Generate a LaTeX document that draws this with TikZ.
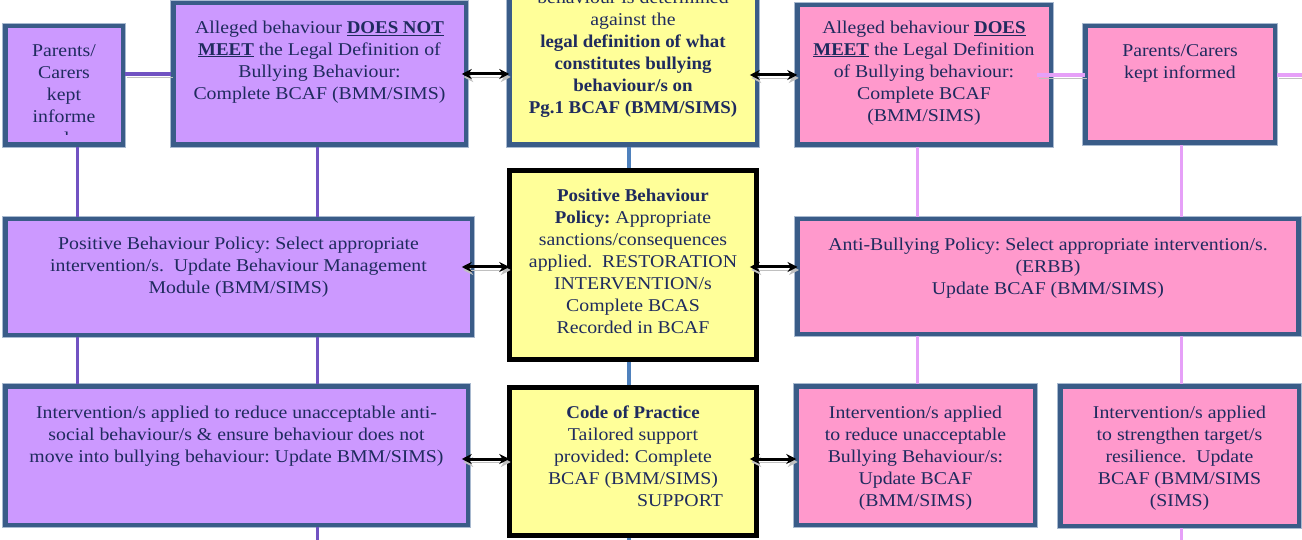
\documentclass[tikz,border=0pt]{standalone}
\usepackage{fontspec}
\setmainfont{Liberation Serif}[UprightFeatures={FakeStretch=1.1}, BoldFeatures={FakeStretch=1.05}]
\usetikzlibrary{arrows.meta}
\definecolor{bordc}{HTML}{3A5C88}
\definecolor{halo}{HTML}{A9BAD0}
\definecolor{lav}{HTML}{CC99FF}
\definecolor{pnk}{HTML}{FF99CC}
\definecolor{yel}{HTML}{FFFF99}
\definecolor{navy}{HTML}{1F2B5E}
\definecolor{purln}{HTML}{7152C2}
\definecolor{pinkln}{HTML}{E6A0F8}
\definecolor{blueln}{HTML}{4F81BD}
\definecolor{shad}{HTML}{C0C0C0}
\newcommand\ulb[1]{\underline{\textbf{#1}}}
\frenchspacing
\tikzset{
  box/.style={rectangle, inner sep=0pt, outer sep=0pt, line width=4.5pt, draw=bordc,
    preaction={draw=halo, line width=6.5pt}},
  purplebox/.style={box, fill=lav},
  pinkbox/.style={box, fill=pnk},
  yellowbox/.style={box, fill=yel},
  blackbox/.style={rectangle, inner sep=0pt, outer sep=0pt, line width=5pt, draw=black, fill=yel},
  txt/.style={anchor=north, inner sep=0pt, align=center, text=navy, font=\fontsize{18}{22}\selectfont\frenchspacing},
  purpline/.style={draw=purln, line width=3pt},
  pinkline/.style={draw=pinkln, line width=3pt},
  blueline/.style={draw=blueln, line width=4pt},
  shadowed/.style={preaction={draw=shad, transform canvas={xshift=1.5pt,yshift=-3pt}}},
  hpurp/.style={shadowed, draw=purln, line width=4pt},
  hpink/.style={shadowed, draw=pinkln, line width=4pt},
  dblarrow/.style={shadowed, draw=black, line width=3pt,
    {Stealth[length=10pt,width=10pt]}-{Stealth[length=10pt,width=10pt]}}
}
\begin{document}
\begin{tikzpicture}[x=1pt,y=-1pt]
\path[use as bounding box] (0,0) rectangle (1302,540);
\clip (0,0) rectangle (1302,540);
\fill[white] (0,0) rectangle (1302,540);
% named edge coordinates
\coordinate (edgeR) at (1302,75);
\coordinate (botP) at (317,540);
\coordinate (botB) at (629,540);
\coordinate (botK) at (1181,540);

% boxes (row 1)
\node[purplebox, minimum width=117.5pt, minimum height=118.5pt] (PL) at (64,85.5) {};
\node[purplebox, minimum width=292.5pt, minimum height=141.5pt] (DNM) at (319.5,74) {};
\node[yellowbox, minimum width=247.5pt, minimum height=162.5pt] (CT) at (633,63.5) {};
\node[pinkbox, minimum width=253.5pt, minimum height=139.5pt] (DM) at (924,75) {};
\node[pinkbox, minimum width=189.5pt, minimum height=116.5pt] (PR) at (1180,84.5) {};
% row 2
\node[purplebox, minimum width=466.5pt, minimum height=115.5pt] (PBP) at (238.5,277) {};
\node[blackbox, minimum width=247.5pt, minimum height=189.5pt] (CM) at (633,265) {};
\node[pinkbox, minimum width=501pt, minimum height=114.5pt] (AB) at (1048,276.5) {};
% row 3
\node[purplebox, minimum width=462.5pt, minimum height=138.5pt] (R3L) at (236.5,455.5) {};
\node[blackbox, minimum width=247.5pt, minimum height=148.5pt] (CB) at (633,461.5) {};
\node[pinkbox, minimum width=238.5pt, minimum height=138.5pt] (P1) at (915.5,455.5) {};
\node[pinkbox, minimum width=238.5pt, minimum height=139.5pt] (P2) at (1179.5,456) {};

% vertical connectors
\draw[purpline] ([xshift=13pt,yshift=-2.25pt]PL.south) -- ([xshift=13pt,yshift=2.25pt]PL.south |- PBP.north);
\draw[purpline] ([xshift=-2.5pt,yshift=-2.25pt]DNM.south) -- ([xshift=-2.5pt,yshift=2.25pt]DNM.south |- PBP.north);
\draw[purpline] ([xshift=13pt,yshift=-2.25pt]PL.south |- PBP.south) -- ([xshift=13pt,yshift=2.25pt]PL.south |- R3L.north);
\draw[purpline] ([xshift=-2.5pt,yshift=-2.25pt]DNM.south |- PBP.south) -- ([xshift=-2.5pt,yshift=2.25pt]DNM.south |- R3L.north);
\draw[purpline] ([xshift=-2.5pt,yshift=-2.25pt]DNM.south |- R3L.south) -- (botP);
\draw[blueline] ([xshift=-4pt,yshift=-2.25pt]CT.south) -- ([xshift=-4pt,yshift=2.5pt]CT.south |- CM.north);
\draw[blueline] ([xshift=-4pt,yshift=-2.5pt]CT.south |- CM.south) -- ([xshift=-4pt,yshift=2.5pt]CT.south |- CB.north);
\draw[blueline] ([xshift=-4pt,yshift=-2.5pt]CT.south |- CB.south) -- (botB);
\draw[pinkline] ([xshift=-7pt,yshift=-2.25pt]DM.south) -- ([xshift=-7pt,yshift=2.25pt]DM.south |- AB.north);
\draw[pinkline] ([xshift=1pt,yshift=-2.25pt]PR.south) -- ([xshift=1pt,yshift=2.25pt]PR.south |- AB.north);
\draw[pinkline] ([xshift=-7pt,yshift=-2.25pt]DM.south |- AB.south) -- ([xshift=-7pt,yshift=2.25pt]DM.south |- P1.north);
\draw[pinkline] ([xshift=1pt,yshift=-2.25pt]PR.south |- AB.south) -- ([xshift=1pt,yshift=2.25pt]PR.south |- P2.north);
\draw[pinkline] ([xshift=1pt,yshift=-2.25pt]PR.south |- P2.south) -- (botK);

% horizontal connectors
\draw[hpurp] ([xshift=2.25pt]PL.east |- DNM.west) -- ([xshift=-2.25pt]DNM.west);
\draw[hpink] ([xshift=-13.75pt]DM.east) -- (PR.west |- DM.east);
\draw[hpink] ([xshift=2.25pt,yshift=9.5pt]PR.east) -- (edgeR);

% arrows
\draw[dblarrow] ([xshift=-4pt]DNM.east) -- (CT.west |- DNM.east);
\draw[dblarrow] ([xshift=-7pt]CT.east |- DM.west) -- (DM.west);
\draw[dblarrow] ([xshift=-10pt,yshift=10pt]PBP.east) -- ([yshift=10pt]PBP.east -| CM.west);
\draw[dblarrow] ([xshift=-7pt,yshift=-2pt]CM.east) -- ([yshift=-2pt]CM.east -| AB.west);
\draw[dblarrow] ([xshift=-6pt,yshift=-3.5pt]R3L.east) -- ([yshift=-3.5pt]R3L.east -| CB.west);
\draw[dblarrow] ([xshift=-7pt,yshift=-3.5pt]R3L.east -| CB.east) -- ([yshift=-3.5pt]R3L.east -| P1.west);

% texts
\begin{scope}
\clip ([xshift=2.25pt,yshift=-2.25pt]PL.north west) rectangle ([xshift=-2.25pt]PL.east |- 0,135);
\node[txt] (PLt) at (64,44.5) {Parents/\\Carers\\kept\\informe\\d};
\end{scope}
\node[txt] (DNMt) at (319.5,20.5) {Alleged behaviour \ulb{DOES NOT}\\\ulb{MEET} the Legal Definition of\\Bullying Behaviour:\\Complete BCAF (BMM/SIMS)};
\node[txt] (CTt) at (633,-9.5) {behaviour is determined\\against the\\\textbf{legal definition of what}\\\textbf{constitutes bullying}\\\textbf{behaviour/s on}\\\textbf{Pg.1 BCAF (BMM/SIMS)}};
\node[txt] (DMt) at (924,20.5) {Alleged behaviour \ulb{DOES}\\\ulb{MEET} the Legal Definition\\of Bullying behaviour:\\Complete BCAF\\(BMM/SIMS)};
\node[txt] (PRt) at (1180,44.5) {Parents/Carers\\kept informed};
\node[txt] (PBPt) at (238.5,236.5) {Positive Behaviour Policy: Select appropriate\\intervention/s.\ \ Update Behaviour Management\\Module (BMM/SIMS)};
\node[txt] (CMt) at (633,188.5) {\textbf{Positive Behaviour}\\\textbf{Policy:} Appropriate\\sanctions/consequences\\applied.\ \ RESTORATION\\INTERVENTION/s\\Complete BCAS\\Recorded in BCAF};
\node[txt] (ABt) at (1048,237.5) {Anti-Bullying Policy: Select appropriate intervention/s.\\(ERBB)\\Update BCAF (BMM/SIMS)};
\node[txt] (R3Lt) at (236.5,405.5) {Intervention/s applied to reduce unacceptable anti-\\social behaviour/s \& ensure behaviour does not\\move into bullying behaviour: Update BMM/SIMS)};
\node[txt] (CBt) at (633,405.5) {\textbf{Code of Practice}\\Tailored support\\provided: Complete\\BCAF (BMM/SIMS)\\\hspace*{94pt}SUPPORT};
\node[txt] (P1t) at (915.5,405.5) {Intervention/s applied\\to reduce unacceptable\\Bullying Behaviour/s:\\Update BCAF\\(BMM/SIMS)};
\node[txt] (P2t) at (1179.5,405.5) {Intervention/s applied\\to strengthen target/s\\resilience.\ \ Update\\BCAF (BMM/SIMS\\(SIMS)};
\end{tikzpicture}
\end{document}
